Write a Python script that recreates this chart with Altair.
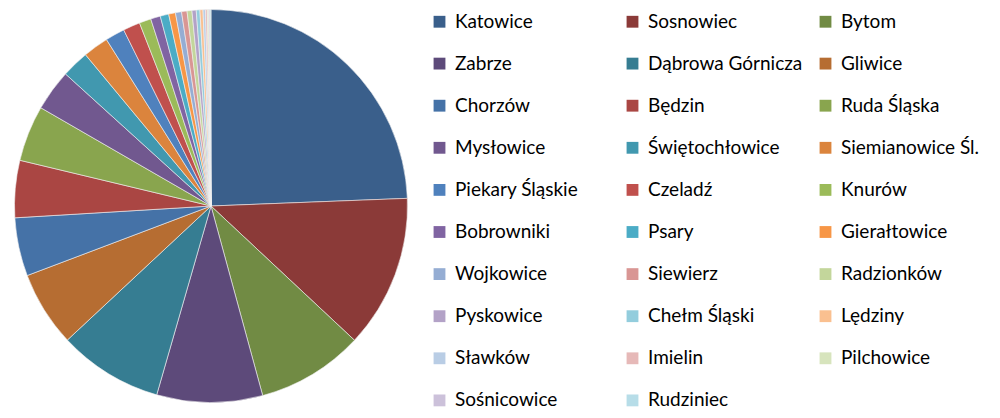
import altair as alt
import pandas as pd

cities = ["Katowice", "Sosnowiec", "Bytom", "Zabrze", "Dąbrowa Górnicza", "Gliwice",
          "Chorzów", "Będzin", "Ruda Śląska", "Mysłowice", "Świętochłowice", "Siemianowice Śl.",
          "Piekary Śląskie", "Czeladź", "Knurów", "Bobrowniki", "Psary", "Gierałtowice",
          "Wojkowice", "Siewierz", "Radzionków", "Pyskowice", "Chełm Śląski", "Lędziny",
          "Sławków", "Imielin", "Pilchowice", "Sośnicowice", "Rudziniec"]
shares = [24.4, 12.6, 8.8, 8.7, 8.6, 6.2,
          4.8, 4.7, 4.6, 3.4, 2.25, 2.1,
          1.6, 1.4, 0.97, 0.8, 0.7, 0.56,
          0.5, 0.45, 0.4, 0.35, 0.3, 0.25,
          0.2, 0.15, 0.12, 0.1, 0.08]
colors = ["#3A5F8B", "#8B3A38", "#718B44", "#5D4A7A", "#367D92", "#B66D32",
          "#4572A7", "#AA4643", "#89A54E", "#71588F", "#4198AF", "#DB843D",
          "#4F81BD", "#C0504D", "#9BBB59", "#8064A2", "#4BACC6", "#F79646",
          "#95ADD3", "#D99694", "#C3D69B", "#B3A2C7", "#93CDDD", "#FAC090",
          "#B9CDE5", "#E6B9B8", "#D7E4BD", "#CCC1DA", "#B7DDE8"]

df = pd.DataFrame({"city": cities, "share": shares, "idx": list(range(len(cities)))})

chart = alt.Chart(df).mark_arc(outerRadius=196.5, stroke="#f2f2f2", strokeWidth=0.6).encode(
    theta=alt.Theta("share:Q", stack=True),
    order=alt.Order("idx:Q", sort="ascending"),
    color=alt.Color(
        "city:N",
        scale=alt.Scale(domain=cities, range=colors),
        sort=cities,
        legend=alt.Legend(
            title=None,
            orient="none",
            direction="horizontal",
            legendX=422,
            legendY=3,
            columns=3,
            gridAlign="all",
            columnPadding=13,
            rowPadding=22.1,
            symbolType="square",
            symbolSize=140,
            symbolStrokeWidth=0,
            labelFont="Lato",
            labelFontSize=19,
            labelColor="#000000",
            labelOffset=6,
            labelLimit=300,
            padding=0,
            symbolLimit=100,
        ),
    ),
).properties(width=406, height=394, padding=0).configure_view(stroke=None)

chart.save("out.html", embed_options={"renderer": "svg", "actions": False})
